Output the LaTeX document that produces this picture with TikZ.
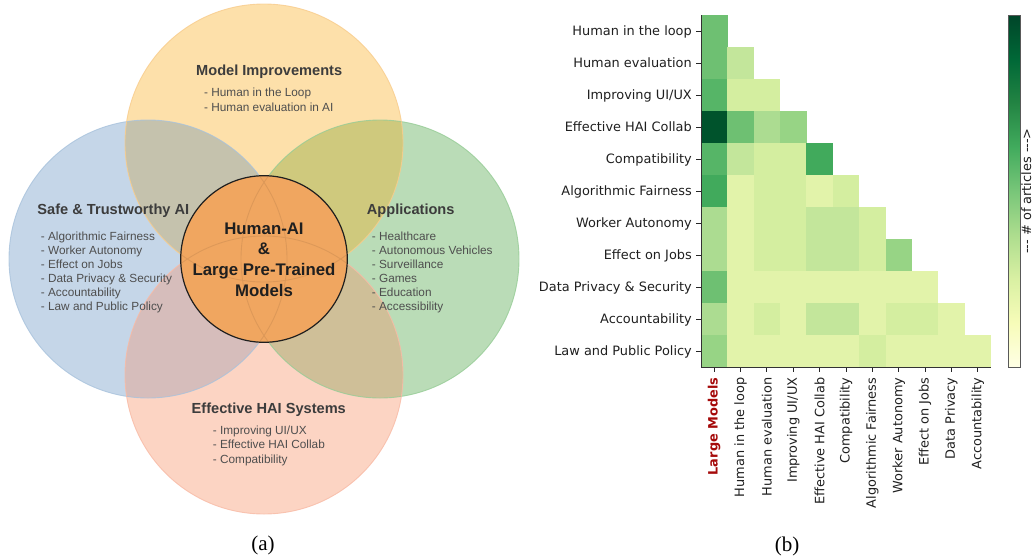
\documentclass[tikz,border=0pt]{standalone}
\usepackage{fontspec}
\newfontfamily\hv{Liberation Sans}
\newfontfamily\dvs{DejaVu Sans}
\newfontfamily\tms{Liberation Serif}
% Venn colours
\definecolor{vtop}{RGB}{253,224,170}
\definecolor{vblue}{RGB}{197,214,232}
\definecolor{vgreen}{RGB}{186,220,183}
\definecolor{vsal}{RGB}{252,212,195}
\definecolor{vtb}{RGB}{197,194,173}
\definecolor{vtg}{RGB}{207,201,125}
\definecolor{vbb}{RGB}{214,189,187}
\definecolor{vbg}{RGB}{207,191,152}
\definecolor{vcen}{RGB}{240,166,96}
\definecolor{ltop}{RGB}{248,204,140}
\definecolor{lblue}{RGB}{168,194,220}
\definecolor{lgreen}{RGB}{150,204,150}
\definecolor{lsal}{RGB}{248,186,165}
\definecolor{vtitlec}{RGB}{60,60,60}
\definecolor{vitemc}{RGB}{78,78,78}
% heatmap colours
\definecolor{hm1}{RGB}{226,243,170}
\definecolor{hm2}{RGB}{212,238,160}
\definecolor{hm3}{RGB}{195,230,155}
\definecolor{hm4}{RGB}{172,220,145}
\definecolor{hm5}{RGB}{151,212,133}
\definecolor{hm6}{RGB}{110,192,114}
\definecolor{hm7}{RGB}{86,181,103}
\definecolor{hm8}{RGB}{65,170,92}
\definecolor{hm9}{RGB}{0,83,44}
\definecolor{lmred}{RGB}{165,10,10}
\definecolor{yg0}{HTML}{FFFFE5}
\definecolor{yg1}{HTML}{F7FCB9}
\definecolor{yg2}{HTML}{D9F0A3}
\definecolor{yg3}{HTML}{ADDD8E}
\definecolor{yg4}{HTML}{78C679}
\definecolor{yg5}{HTML}{41AB5D}
\definecolor{yg6}{HTML}{238443}
\definecolor{yg7}{HTML}{006837}
\definecolor{yg8}{HTML}{004529}
\pgfdeclareverticalshading{ylgn}{100bp}{color(0bp)=(yg0); color(25bp)=(yg0); color(31.25bp)=(yg1); color(37.5bp)=(yg2); color(43.75bp)=(yg3); color(50bp)=(yg4); color(56.25bp)=(yg5); color(62.5bp)=(yg6); color(68.75bp)=(yg7); color(75bp)=(yg8); color(100bp)=(yg8)}
\tikzset{
  vtitle/.style={font=\hv\bfseries\fontsize{14.6}{17}\selectfont, text=vtitlec, inner sep=0pt},
  vitem/.style={font=\hv\fontsize{11.8}{14}\selectfont, text=vitemc, inner sep=0pt, anchor=base west},
  vcentre/.style={font=\hv\bfseries\fontsize{16.8}{20}\selectfont, text=black!88, inner sep=0pt, anchor=base},
  ylab/.style={font=\dvs\fontsize{12.9}{15}\selectfont, text=black!88, inner sep=0pt, anchor=base east},
  xlab/.style={font=\dvs\fontsize{12.9}{15}\selectfont, text=black!88, inner sep=0pt, anchor=east, rotate=90},
  tickmark/.style={draw=black!85, line width=0.9pt},
  spine/.style={draw=black!80, line width=0.9pt},
  capt/.style={font=\tms\fontsize{21}{24}\selectfont, inner sep=0pt, anchor=base},
  ring/.style={line width=0.9pt, draw opacity=0.8},
}
\begin{document}
\begin{tikzpicture}[x=1pt,y=-1pt]
\useasboundingbox (0,0) rectangle (1034,558);
% ---------------- Venn diagram (a)
\coordinate (cT) at (264,143);
\coordinate (cL) at (148,259);
\coordinate (cR) at (380,259);
\coordinate (cB) at (264,375);
\coordinate (cC) at (264,259);
\fill[vblue] (cL) circle[radius=139pt];
\fill[vgreen] (cR) circle[radius=139pt];
\fill[vtop] (cT) circle[radius=139pt];
\fill[vsal] (cB) circle[radius=139pt];
\begin{scope}
  \clip (cT) circle[radius=139pt];
  \fill[vtb] (cL) circle[radius=139pt];
  \fill[vtg] (cR) circle[radius=139pt];
\end{scope}
\begin{scope}
  \clip (cB) circle[radius=139pt];
  \fill[vbb] (cL) circle[radius=139pt];
  \fill[vbg] (cR) circle[radius=139pt];
\end{scope}
\draw[ring, lblue] (cL) circle[radius=139pt];
\draw[ring, lgreen] (cR) circle[radius=139pt];
\draw[ring, ltop] (cT) circle[radius=139pt];
\draw[ring, lsal] (cB) circle[radius=139pt];
\fill[vcen] (cC) circle[radius=83.3pt];
\begin{scope}
  \clip (cC) circle[radius=83.3pt];
  \draw[black, opacity=0.08, line width=0.9pt] (cL) circle[radius=139pt] (cR) circle[radius=139pt] (cT) circle[radius=139pt] (cB) circle[radius=139pt];
\end{scope}
\draw[line width=1.2pt, black!88] (cC) circle[radius=83.3pt];
% titles
\node[vtitle, anchor=base] (tMI) at (269.2,75.3) {Model Improvements};
\node[vtitle, anchor=base west] (tST) at (37.3,214.3) {Safe \& Trustworthy AI};
\node[vtitle, anchor=base west] (tAP) at (366.7,214.3) {Applications};
\node[vtitle, anchor=base] (tEH) at (268.8,413) {Effective HAI Systems};
% items
\node[vitem] (mi1) at (204,96.9) {- Human in the Loop};
\node[vitem] (mi2) at (204,111.2) {- Human evaluation in AI};
\foreach \t [count=\k from 0] in {Algorithmic Fairness, Worker Autonomy, Effect on Jobs, Data Privacy \& Security, Accountability, Law and Public Policy}
  \node[vitem] (st\k) at (40.7,{240.2+14.15*\k}) {- \t};
\foreach \t [count=\k from 0] in {Healthcare, Autonomous Vehicles, Surveillance, Games, Education, Accessibility}
  \node[vitem] (ap\k) at (371.7,{240.2+14.15*\k}) {- \t};
\foreach \t [count=\k from 0] in {Improving UI/UX, Effective HAI Collab, Compatibility}
  \node[vitem] (eh\k) at (212.7,{434.2+14.5*\k}) {- \t};
% centre
\node[vcentre] (c1) at (264,234.3) {Human-AI};
\node[vcentre] (c2) at (264,254.5) {\&};
\node[vcentre] (c3) at (264,275.3) {Large Pre-Trained};
\node[vcentre] (c4) at (264,296) {Models};
\node[capt] (capA) at (263,550.5) {(a)};
% ---------------- Heatmap (b)
\foreach \row [count=\i from 0] in {{6},{6,3},{7,2,2},{9,6,4,5},{7,3,2,2,8},{8,1,2,2,1,2},{4,1,2,2,3,3,2},{4,1,2,2,3,3,2,5},{6,1,1,1,1,1,1,1,1},{4,1,2,1,3,3,1,2,2,1},{5,1,1,1,1,1,2,1,1,1,1}}
  \foreach \v [count=\j from 0] in \row
    \fill[fill=hm\v] ({701+26.36*\j},{15+32*\i}) rectangle ++(26.5,32.2);
\draw[spine] (701,15) -- (701,367.5) -- (991,367.5);
\foreach \lab [count=\i from 0] in {Human in the loop, Human evaluation, Improving UI/UX, Effective HAI Collab, Compatibility, Algorithmic Fairness, Worker Autonomy, Effect on Jobs, Data Privacy \& Security, Accountability, Law and Public Policy}{
  \node[ylab] (yl\i) at (692,{31+32*\i+4.4}) {\lab};
  \draw[tickmark] (696.3,{31+32*\i}) -- (701,{31+32*\i});
}
\foreach \lab [count=\j from 0] in {{\bfseries\color{lmred}Large Models}, Human in the loop, Human evaluation, Improving UI/UX, Effective HAI Collab, Compatibility, Algorithmic Fairness, Worker Autonomy, Effect on Jobs, Data Privacy, Accountability}{
  \node[xlab] (xl\j) at ({701+26.36*(\j+0.5)},377.5) {\lab};
  \draw[tickmark] ({701+26.36*(\j+0.5)},367.5) -- ({701+26.36*(\j+0.5)},372.2);
}
\node[capt] (capB) at (787,551) {(b)};
% colour bar
\shade[shading=ylgn] (1008.3,15) rectangle (1020,367);
\draw[draw=black!65, line width=0.9pt] (1008.3,15) rectangle (1020,367);
\node[font=\dvs\fontsize{12.9}{15}\selectfont, text=black!88, inner sep=0pt, anchor=base, rotate=90] (cbl) at (1031,191) {-{}-{}- \# of articles -{}-{}->};
\end{tikzpicture}
\end{document}
